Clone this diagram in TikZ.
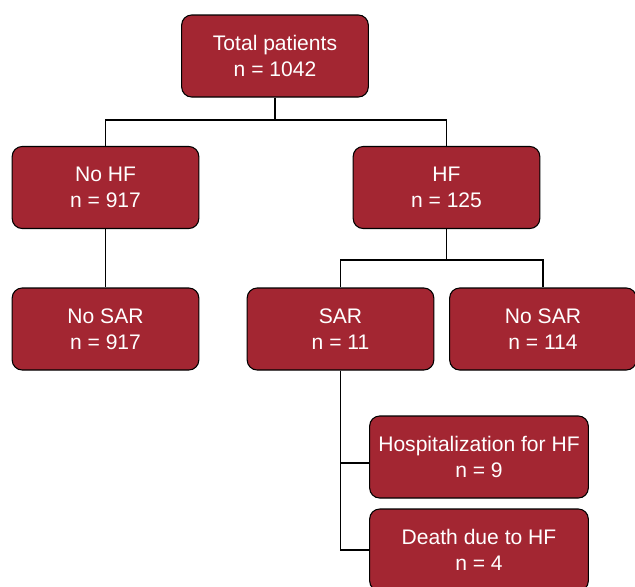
\documentclass[tikz,border=0pt]{standalone}
\usepackage{fontspec}
\setmainfont{Liberation Sans}
\usepackage{tikz}
\definecolor{boxred}{RGB}{163,38,50}

\begin{document}
\begin{tikzpicture}[x=0.75pt, y=-0.75pt,
    box/.style={draw=black, line width=0.8pt, fill=boxred, rounded corners=7.5pt,
        text=white, align=center, minimum width=140pt, minimum height=61.5pt,
        inner sep=0pt, font=\fontsize{15.8}{19.5}\selectfont},
    wide/.style={box, minimum width=164pt},
    link/.style={draw=black, line width=0.8pt}]
            \useasboundingbox (0,0) rectangle (635,586);

            % Boxes
            \node[box] (total) at (275,56) {Total patients\\n = 1042};
            \node[box] (nohf) at (105.5,187.5) {No HF\\n = 917};
            \node[box] (hf) at (446.5,187.5) {HF\\n = 125};
            \node[box] (nosarl) at (105.5,329) {No SAR\\n = 917};
            \node[box] (sar) at (340.5,329) {SAR\\n = 11};
            \node[box] (nosarr) at (543,329) {No SAR\\n = 114};
            \node[wide] (hosp) at (479,457) {Hospitalization for HF\\n = 9};
            \node[wide] (death) at (479,550) {Death due to HF\\n = 4};

            % Junctions
            \coordinate (j1) at (0,120);
            \coordinate (j2) at (0,260);

            % Links
            \draw[link] (total.south) -- (total.south |- j1) -| (nohf.north);
            \draw[link] (total.south |- j1) -| (hf.north);
            \draw[link] (hf.south) -- (hf.south |- j2) -| (sar.north);
            \draw[link] (hf.south |- j2) -| (nosarr.north);
            \draw[link] (nohf.south) -- (nosarl.north);
            \draw[link] (sar.south) |- ([yshift=-4.5pt]hosp.west);
            \draw[link] (sar.south) |- (death.west);

        \end{tikzpicture}
\end{document}
